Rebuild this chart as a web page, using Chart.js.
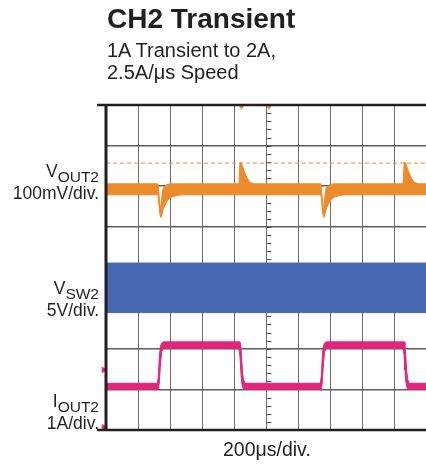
<!DOCTYPE html>
<html>
<head>
<meta charset="utf-8">
<script src="https://cdn.jsdelivr.net/npm/chart.js@4/dist/chart.umd.min.js"></script>
<style>
  body { margin: 0; background: #fff; font-family: "Liberation Sans", Arial, sans-serif; color: #231f20; }
  #wrap { position: relative; width: 426px; height: 466px; overflow: hidden; }
  #scope { position: absolute; left: 0; top: 0; }
  .txt { position: absolute; white-space: nowrap; }
  .title { left: 107px; top: 5px; font-size: 28px; line-height: 28px; font-weight: bold; }
  .sub { left: 107px; top: 39px; font-size: 20px; line-height: 22px; }
  .lab { right: 327px; text-align: right; font-size: 17.5px; line-height: 17.5px; }
  .lab sub { font-size: 15.5px; line-height: 0; vertical-align: -5px; }
  .foot { left: 223px; top: 440px; font-size: 19.5px; line-height: 19.5px; }
</style>
</head>
<body>
<div id="wrap">
  <canvas id="scope" width="426" height="466"></canvas>
  <div class="txt title">CH2 Transient</div>
  <div class="txt sub">1A Transient to 2A,<br>2.5A/μs Speed</div>
  <div class="txt lab" style="top:163px">V<sub>OUT2</sub></div>
  <div class="txt lab" style="top:185px">100mV/div.</div>
  <div class="txt lab" style="top:280px">V<sub>SW2</sub></div>
  <div class="txt lab" style="top:302px">5V/div.</div>
  <div class="txt lab" style="top:393px">I<sub>OUT2</sub></div>
  <div class="txt lab" style="top:415px">1A/div.</div>
  <div class="txt foot">200μs/div.</div>
</div>
<script>
// Tiempo en µs (200µs/div), valores en divisiones de pantalla (0 abajo, 8 arriba)
const tiempoFin = 1964;

// VOUT2: borde superior e inferior de la traza naranja
const tiempoVout = [0, 319, 325, 331, 337, 343, 350, 362, 380, 405, 442, 479, 816, 822, 831, 847, 865, 883, 908,
                    1319, 1325, 1331, 1337, 1343, 1350, 1362, 1380, 1405, 1442, 1479, 1824, 1830, 1839, 1855, 1873, 1891, 1916, 1964];
const voutArriba = [6.06, 6.06, 5.79, 5.57, 5.42, 5.74, 5.94, 6.01, 6.05, 6.06, 6.06, 6.06, 6.06, 6.58, 6.58, 6.38, 6.21, 6.10, 6.06,
                    6.06, 5.79, 5.57, 5.42, 5.74, 5.94, 6.01, 6.05, 6.06, 6.06, 6.06, 6.06, 6.58, 6.58, 6.38, 6.21, 6.10, 6.06, 6.06];
const voutAbajo  = [5.79, 5.79, 5.54, 5.30, 5.23, 5.30, 5.42, 5.54, 5.67, 5.74, 5.78, 5.79, 5.79, 5.79, 5.79, 5.79, 5.79, 5.79, 5.79,
                    5.79, 5.54, 5.30, 5.23, 5.30, 5.42, 5.54, 5.67, 5.74, 5.78, 5.79, 5.79, 5.79, 5.79, 5.79, 5.79, 5.79, 5.79, 5.79];
const voutReferencia = 6.57; // línea punteada

// VSW2: banda de conmutación
const tiempoVsw = [0, 1964];
const vswArriba = [4.11, 4.11];
const vswAbajo = [2.89, 2.89];

// IOUT2: escalones 1A -> 2A
const tiempoIout = [0, 316, 322, 327, 333, 341, 352, 816, 822, 827, 832, 837, 843, 852,
                    1316, 1322, 1327, 1333, 1341, 1352, 1824, 1830, 1835, 1840, 1845, 1851, 1860, 1964];
const ioutArriba = [1.15, 1.15, 1.35, 1.77, 2.04, 2.14, 2.17, 2.17, 2.17, 2.09, 1.82, 1.48, 1.26, 1.15,
                    1.15, 1.35, 1.77, 2.04, 2.14, 2.17, 2.17, 2.17, 2.09, 1.82, 1.48, 1.26, 1.15, 1.15];
const ioutAbajo  = [1.00, 1.00, 1.01, 1.16, 1.53, 1.92, 2.01, 2.01, 1.82, 1.48, 1.21, 1.07, 1.01, 1.00,
                    1.00, 1.01, 1.16, 1.53, 1.92, 2.01, 2.01, 1.82, 1.48, 1.21, 1.07, 1.01, 1.00, 1.00];

// marcadores de canal y de disparo
const marcadoresCanal = [{ x: -14, y: 6.03, c: '#ec8b2c' }, { x: -14, y: 3.03, c: '#4768b3' },
                         { x: -14, y: 1.48, c: '#e0267a' }, { x: -14, y: 0.07, c: '#e0267a' }];
const marcadoresDisparo = [{ x: 832, y: 7.97 }, { x: 1000, y: 7.97 }];

const naranja = '#ec8b2c';
const azul = '#4768b3';
const rosa = '#e0267a';

const puntos = (t, v) => t.map((x, i) => ({ x: x, y: v[i] }));

function traza(datos, color, relleno) {
    return {
        data: datos,
        borderColor: color,
        backgroundColor: color,
        borderWidth: 1,
        pointRadius: 0,
        tension: 0,
        fill: relleno
    };
}

// Marco, ticks menores del eje central
const marcoOsciloscopio = {
    id: 'marcoOsciloscopio',
    beforeDatasetsDraw(chart) {
        const { ctx, scales: { x, y } } = chart;
        const cx = x.getPixelForValue(1000);
        ctx.save();
        ctx.strokeStyle = '#555';
        ctx.lineWidth = 1;
        for (let k = 0; k <= 40; k++) {
            const py = Math.round(y.getPixelForValue(k / 5)) + 0.5;
            ctx.beginPath();
            ctx.moveTo(cx - 2.5, py);
            ctx.lineTo(cx + 2.5, py);
            ctx.stroke();
        }
        ctx.restore();
    },
    afterDraw(chart) {
        const { ctx, scales: { x, y } } = chart;
        const izq = x.getPixelForValue(0);
        const der = chart.chartArea.right;
        const arriba = y.getPixelForValue(8);
        const abajo = y.getPixelForValue(0);
        ctx.save();
        ctx.strokeStyle = '#231f20';
        ctx.lineWidth = 2.5;
        ctx.beginPath();
        ctx.moveTo(izq - 9, arriba); ctx.lineTo(der, arriba);
        ctx.moveTo(izq - 9, abajo); ctx.lineTo(der, abajo);
        ctx.stroke();
        ctx.lineWidth = 3;
        ctx.beginPath();
        ctx.moveTo(izq, arriba); ctx.lineTo(izq, abajo);
        ctx.stroke();
        ctx.restore();
    }
};

const ctx = document.getElementById('scope').getContext('2d');
new Chart(ctx, {
    type: 'line',
    data: {
        datasets: [
            traza(puntos(tiempoVout, voutAbajo), naranja, false),
            traza(puntos(tiempoVout, voutArriba), naranja, '-1'),
            {
                data: [{ x: 0, y: voutReferencia }, { x: tiempoFin, y: voutReferencia }],
                borderColor: '#f08a3c', borderWidth: 1, borderDash: [4, 3], pointRadius: 0, fill: false
            },
            traza(puntos(tiempoVsw, vswAbajo), azul, false),
            traza(puntos(tiempoVsw, vswArriba), azul, '-1'),
            traza(puntos(tiempoIout, ioutAbajo), rosa, false),
            traza(puntos(tiempoIout, ioutArriba), rosa, '-1'),
            {
                type: 'scatter',
                data: marcadoresCanal,
                pointStyle: 'triangle', rotation: 90, pointRadius: 3,
                pointBackgroundColor: marcadoresCanal.map(m => m.c),
                pointBorderColor: marcadoresCanal.map(m => m.c),
                clip: false
            },
            {
                type: 'scatter',
                data: marcadoresDisparo,
                pointStyle: 'triangle', rotation: 180, pointRadius: 3,
                pointBackgroundColor: naranja, pointBorderColor: naranja,
                clip: false
            }
        ]
    },
    options: {
        responsive: false,
        animation: false,
        layout: { autoPadding: false, padding: { left: 106, top: 105, right: 0, bottom: 36 } },
        plugins: { legend: { display: false }, tooltip: { enabled: false } },
        scales: {
            x: {
                type: 'linear', min: 0, max: tiempoFin,
                ticks: { display: false, stepSize: 200, includeBounds: false },
                grid: { color: '#6e6e6e', lineWidth: 1, drawTicks: false },
                border: { display: false }
            },
            y: {
                type: 'linear', min: 0, max: 8,
                ticks: { display: false, stepSize: 1 },
                grid: { color: '#5e5e5e', lineWidth: 1.6, drawTicks: false },
                border: { display: false }
            }
        }
    },
    plugins: [marcoOsciloscopio]
});
</script>
</body>
</html>
